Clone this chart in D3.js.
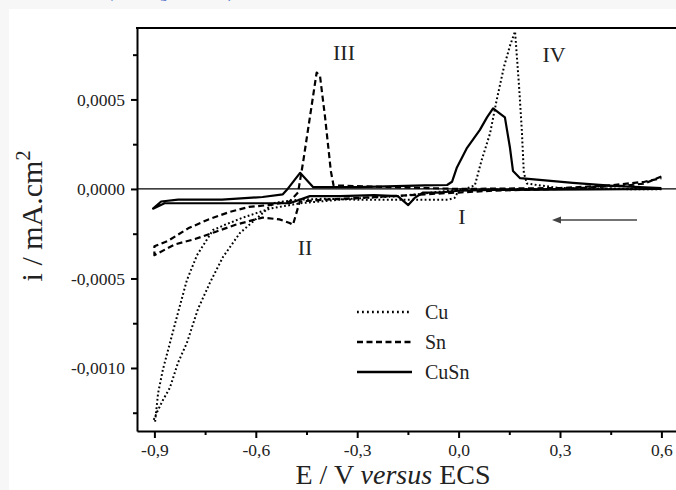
<!DOCTYPE html>
<html>
<head>
<meta charset="utf-8">
<script src="https://cdn.jsdelivr.net/npm/d3@7"></script>
<style>
  body { margin: 0; background: #f7f7f7; }
  text { font-family: "Liberation Serif", "Times New Roman", serif; fill: #222; }
</style>
</head>
<body>
<div id="chart"></div>
<script>
// Cyclic voltammograms, one loop each (start at 0.6 V, sweep negative, come back)
// potentials in V vs ECS, currents in mA.cm-2
const cuE = [0.6, 0.4, 0.2, 0.05, 0.0, -0.012, -0.03, -0.1, -0.2, -0.3, -0.4, -0.47, -0.52, -0.549, -0.579, -0.647, -0.697, -0.736, -0.771, -0.804, -0.83, -0.854, -0.875, -0.893, -0.902,
  -0.898, -0.889, -0.875, -0.854, -0.83, -0.804, -0.774, -0.727, -0.691, -0.638, -0.558, -0.469, -0.321, -0.173, -0.055, 0.019, 0.048, 0.068, 0.093, 0.113, 0.134, 0.152, 0.167, 0.179, 0.187, 0.193, 0.202, 0.3, 0.45, 0.6];
const cuI = [-0.000002, 0, 0, -0.000005, -0.00001, -0.00005, -0.00006, -0.00006, -0.00006, -0.00006, -0.000055, -0.00006, -0.00007, -0.00008, -0.000134, -0.000246, -0.00038, -0.000525, -0.00067, -0.00086, -0.00097, -0.00111, -0.00118, -0.00125, -0.00129,
  -0.0013, -0.00114, -0.00101, -0.00086, -0.00069, -0.00051, -0.00037, -0.00023, -0.0002, -0.00016, -0.00011, -0.00008, -0.000055, -0.00004, -0.000015, 0, 0.00002, 0.00016, 0.00031, 0.0005, 0.00068, 0.0008, 0.00088, 0.00057, 0.00033, 0.00009, 0.00003, 0.000005, 0.000002, 0];

const snE = [0.6, 0.55, 0.5, 0.4, 0.3, 0.1, 0.0, -0.1, -0.2, -0.3, -0.4, -0.47, -0.49, -0.5, -0.53, -0.58, -0.62, -0.66, -0.72, -0.78, -0.84, -0.9,
  -0.9, -0.86, -0.8, -0.74, -0.68, -0.62, -0.56, -0.5, -0.475, -0.46, -0.44, -0.42, -0.41, -0.395, -0.378, -0.37, -0.2, 0.0, 0.3, 0.45, 0.55, 0.6];
const snI = [0.00007, 0.00003, 0.00002, 0.00001, 0, -0.00001, -0.00002, -0.00003, -0.00004, -0.00005, -0.00006, -0.00007, -0.0002, -0.00019, -0.00017, -0.00016, -0.00018, -0.0002, -0.00024, -0.00028, -0.00031, -0.00037,
  -0.00032, -0.00029, -0.00022, -0.00017, -0.00013, -0.0001, -0.00009, -0.00007, -0.00002, 0.00015, 0.0004, 0.00065, 0.00063, 0.0004, 0.0001, 0.00002, 0.00001, 0, 0.000005, 0.00002, 0.00004, 0.00006];

const cusnE = [0.6, 0.4, 0.1, 0.0, -0.06, -0.105, -0.13, -0.149, -0.18, -0.25, -0.35, -0.44, -0.5, -0.55, -0.65, -0.75, -0.82, -0.87, -0.904,
  -0.88, -0.83, -0.7, -0.58, -0.52, -0.508, -0.469, -0.43, -0.3, -0.1, -0.034, -0.0195, -0.005, 0.025, 0.063, 0.084, 0.102, 0.137, 0.152, 0.161, 0.182, 0.338, 0.457, 0.6];
const cusnI = [0, -0.000003, -0.000005, -0.00001, -0.00002, -0.00002, -0.00005, -0.00009, -0.00004, -0.000035, -0.00004, -0.00004, -0.00008, -0.00008, -0.00008, -0.00008, -0.00008, -0.00008, -0.00011,
  -0.00007, -0.00006, -0.00006, -0.000045, -0.00003, -0.000005, 0.00009, 0.00001, 0.00001, 0.00002, 0.000022, 0.00004, 0.00012, 0.00023, 0.00033, 0.0004, 0.00045, 0.0004, 0.00023, 0.0001, 0.00006, 0.000034, 0.000017, 0.000005];

const xTicks = [-0.9, -0.6, -0.3, 0.0, 0.3, 0.6];
const xMinor = [-0.75, -0.45, -0.15, 0.15, 0.45];
const yTicks = [0.0005, 0.0, -0.0005, -0.001];
const yMinor = [0.00075, 0.00025, -0.00025, -0.00075, -0.00125];

const seriesNames = ["Cu", "Sn", "CuSn"];
const peakLabels = ["I", "II", "III", "IV"];

const W = 676, H = 490;
const plot = { left: 137, top: 28, right: 700, bottom: 431 };
const serif = '"Liberation Serif", "Times New Roman", serif';

const svg = d3.select("#chart").append("svg")
  .attr("width", W).attr("height", H);

// light grey frame around the white figure
svg.append("rect").attr("width", W).attr("height", H).attr("fill", "#f7f7f7");
svg.append("rect").attr("x", 9).attr("y", 9).attr("width", W).attr("height", H).attr("fill", "#fff");

// cut off caption line at the very top
svg.append("text").attr("x", 108).attr("y", -2)
  .style("font-size", "15px").style("fill", "#3b5bc4")
  .text("(Color figure online)");

const x = d3.scaleLinear()
  .domain([(plot.left - 458.6) / 338, (plot.right - 458.6) / 338])
  .range([plot.left, plot.right]);
const y = d3.scaleLinear()
  .domain([-0.001352, 0.000899])
  .range([plot.bottom, plot.top]);

// decimal comma and plain hyphen as minus
const fmtX = d => (Math.abs(d) < 1e-9 ? "0,0" : d.toFixed(1).replace(".", ","));
const fmtY = d => (Math.abs(d) < 1e-9 ? "0,0000" : d.toFixed(4).replace(".", ","));

svg.append("clipPath").attr("id", "clip")
  .append("rect").attr("x", plot.left).attr("y", plot.top)
  .attr("width", plot.right - plot.left).attr("height", plot.bottom - plot.top);

// zero line
svg.append("line")
  .attr("x1", plot.left).attr("x2", plot.right)
  .attr("y1", y(0)).attr("y2", y(0))
  .attr("stroke", "#000").attr("stroke-width", 1.2);

// curves
const line = d3.line().x(d => x(d[0])).y(d => y(d[1]));
const curves = [
  { name: "Cu", E: cuE, I: cuI, dash: "1.8,2.4", w: 2 },
  { name: "Sn", E: snE, I: snI, dash: "6,3.5", w: 2.2 },
  { name: "CuSn", E: cusnE, I: cusnI, dash: null, w: 2.2 }
];
svg.append("g").attr("clip-path", "url(#clip)")
  .selectAll("path")
  .data(curves)
  .join("path")
  .attr("d", c => line(c.E.map((e, k) => [e, c.I[k]])))
  .attr("fill", "none")
  .attr("stroke", "#000")
  .attr("stroke-width", c => c.w)
  .attr("stroke-linejoin", "round")
  .attr("stroke-dasharray", c => c.dash);

// axes
svg.append("g")
  .attr("transform", "translate(0," + plot.bottom + ")")
  .call(d3.axisBottom(x).tickValues(xTicks).tickFormat(fmtX).tickSize(7).tickSizeOuter(0).tickPadding(6));
svg.append("g")
  .attr("transform", "translate(0," + plot.bottom + ")")
  .call(d3.axisBottom(x).tickValues(xMinor).tickFormat("").tickSize(4).tickSizeOuter(0))
  .select(".domain").remove();

svg.append("g")
  .attr("transform", "translate(" + plot.left + ",0)")
  .call(d3.axisLeft(y).tickValues(yTicks).tickFormat(fmtY).tickSize(6).tickSizeOuter(0).tickPadding(6));
svg.append("g")
  .attr("transform", "translate(" + plot.left + ",0)")
  .call(d3.axisLeft(y).tickValues(yMinor).tickFormat("").tickSize(4).tickSizeOuter(0))
  .select(".domain").remove();

svg.selectAll(".domain").attr("stroke-width", 2);
svg.selectAll(".tick line").attr("stroke-width", 2);
svg.selectAll(".tick text")
  .attr("font-family", null)
  .style("font-family", serif)
  .style("font-size", "17.5px")
  .style("fill", "#222");

// top frame line
svg.append("line")
  .attr("x1", plot.left - 1).attr("x2", plot.right)
  .attr("y1", plot.top).attr("y2", plot.top)
  .attr("stroke", "#000").attr("stroke-width", 2.2);

// axis titles
const xt = svg.append("text")
  .attr("x", 393).attr("y", 484)
  .attr("text-anchor", "middle")
  .style("font-size", "28px");
xt.append("tspan").text("E / V ");
xt.append("tspan").style("font-style", "italic").text("versus");
xt.append("tspan").text(" ECS");

const yt = svg.append("text")
  .attr("transform", "translate(42,216) rotate(-90)")
  .attr("text-anchor", "middle")
  .style("font-size", "30px");
yt.append("tspan").text("i / mA.cm");
yt.append("tspan").attr("dy", -12).style("font-size", "20px").text("2");

// peak labels
const peakX = [462, 305, 344, 554];
const peakY = [224, 255, 60, 62];
svg.selectAll(".peak")
  .data(peakLabels)
  .join("text")
  .attr("class", "peak")
  .attr("x", (d, k) => peakX[k]).attr("y", (d, k) => peakY[k])
  .attr("text-anchor", "middle")
  .style("font-size", "22px")
  .text(d => d);

// sweep direction arrow
svg.append("path")
  .attr("d", "M552,220 L561,216.5 L561,223.5 Z")
  .attr("fill", "#444");
svg.append("line")
  .attr("x1", 637).attr("x2", 558).attr("y1", 220).attr("y2", 220)
  .attr("stroke", "#444").attr("stroke-width", 1.4);

// legend
const legend = svg.append("g").attr("transform", "translate(357,312)");
const lg = legend.selectAll("g")
  .data(curves)
  .join("g")
  .attr("transform", (d, k) => "translate(0," + k * 30 + ")");
lg.append("line")
  .attr("x1", 0).attr("x2", 55)
  .attr("stroke", "#000")
  .attr("stroke-width", d => d.w + 0.3)
  .attr("stroke-dasharray", d => d.name === "Cu" ? "1.8,3.2" : d.dash);
lg.append("text")
  .attr("x", 68).attr("y", 7)
  .style("font-size", "20px")
  .text(d => d.name);
</script>
</body>
</html>
